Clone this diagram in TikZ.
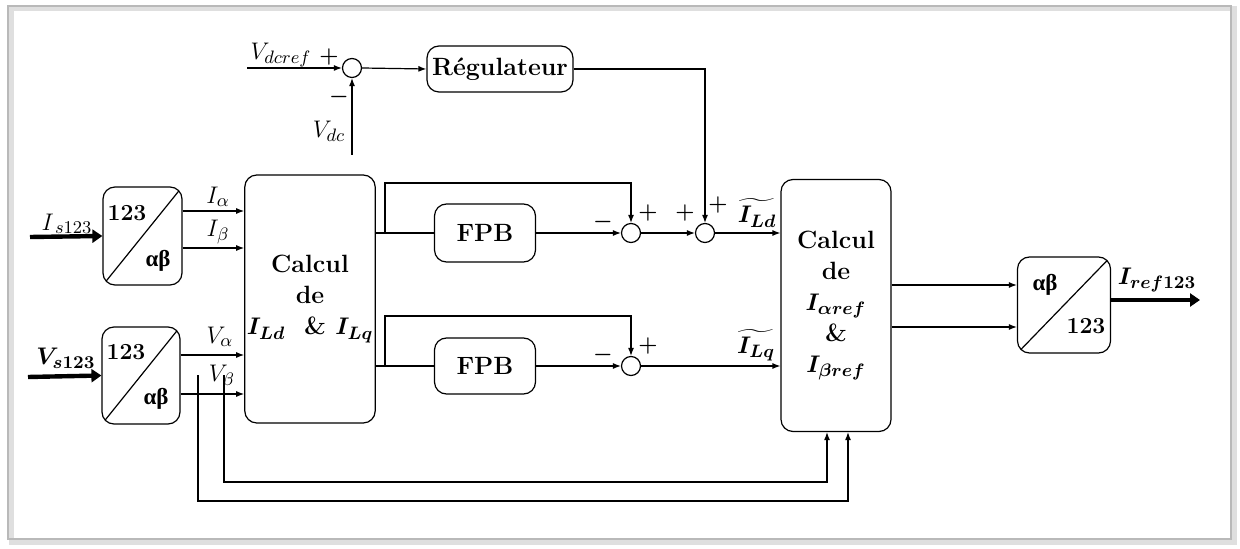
\documentclass[tikz,border=0pt]{standalone}
\usepackage{amsmath}
\usepackage{bm}
\usepackage{fontspec}
\newfontfamily\grkfont{Liberation Serif}
\usetikzlibrary{arrows.meta}
\begin{document}
\begin{tikzpicture}[x=0.5pt,y=-0.5pt,
    blk/.style={draw, rounded corners=6pt, line width=0.6pt, align=center, inner sep=1pt,
                font=\bfseries\fontsize{12.5}{15.5}\selectfont},
    sumnode/.style={draw, circle, minimum size=9.5pt, inner sep=0pt, line width=0.6pt},
    conv/.style={draw, rounded corners=6pt, line width=0.6pt, inner sep=0pt,
                 path picture={\draw (path picture bounding box.south west) -- (path picture bounding box.north east);}},
    convtxt/.style={font=\bfseries\fontsize{11.5}{13}\selectfont, inner sep=0pt},
    sig/.style={line width=0.6pt, -{Latex[length=4pt,width=3pt]}},
    bus/.style={line width=2.2pt, -{Triangle[length=5pt,width=6.5pt]}},
    lbl/.style={font=\fontsize{13}{15}\selectfont, inner sep=0pt},
    sgn/.style={font=\bfseries\fontsize{11}{13}\selectfont, inner sep=0pt}]
          \useasboundingbox (0,0) rectangle (1240,549);
          \draw [gray!25, line width=2.5pt] (11,9) rectangle (1234,542); % Draws the shadow
          \draw [gray!55, line width=0.8pt] (8,6) rectangle (1231,539); % Draws the frame

          % DC bus regulation
          \node [sumnode] (sum1) at (352,68) {};
          \node [blk, minimum width=73pt, minimum height=23pt] (reg) at (500,69) {Régulateur};
          \coordinate (vdcref-in) at (247,68);
          \coordinate (vdc-in) at (352,155);

          % input transformations
          \node [conv, minimum width=39.5pt, minimum height=49pt] (convI) at (142.5,236) {};
          \node [convtxt] (convI-a) at (127,213) {123};
          \node [convtxt] (convI-b) at (158,261) {\grkfont αβ};
          \node [conv, minimum width=39pt, minimum height=48.5pt] (convV) at (141,375.5) {};
          \node [convtxt] (convV-a) at (126,352) {123};
          \node [convtxt] (convV-b) at (156,399) {\grkfont αβ};
          \coordinate (is-in) at (30,237);
          \coordinate (vs-in) at (28,377);

          % calculation blocks
          \node [blk, minimum width=55pt, minimum height=124pt] (calc1) at (310,299)
                {Calcul\\de\\$\bm{I_{Ld}}$\ \ \& $\bm{I_{Lq}}$};
          \node [blk, minimum width=55pt, minimum height=126pt] (calc2) at (836,305.5)
                {Calcul\\de\\$\bm{I_{\alpha ref}}$\\\&\\$\bm{I_{\beta ref}}$};

          % filters and sums
          \node [blk, minimum width=50.5pt, minimum height=29pt] (fpb1) at (485,233) {FPB};
          \node [blk, minimum width=50.5pt, minimum height=28pt] (fpb2) at (485,366) {FPB};
          \node [sumnode] (sum2) at (631,233) {};
          \node [sumnode] (sum3) at (705,233) {};
          \node [sumnode] (sum4) at (631,366) {};
          \coordinate (d-tap) at (385,233);
          \coordinate (q-tap) at (385,366);

          % output transformation
          \node [conv, minimum width=46.5pt, minimum height=48pt] (convO) at (1064,305) {};
          \node [convtxt] (convO-a) at (1045,285) {\grkfont αβ};
          \node [convtxt] (convO-b) at (1086,326) {123};
          \coordinate (iref-out) at (1200,300);

          % labels
          \node [lbl] (l-vdcref) at (281,55) {$V_{dcref}$};
          \node [sgn] (p-sum1) at (329,57) {+};
          \node [sgn] (m-sum1) at (339,97) {$\bm{-}$};
          \node [lbl] (l-vdc) at (329,131) {$V_{dc}$};
          \node [lbl] (l-is) at (67,224) {$I_{\,s123}$};
          \node [lbl] (l-vs) at (66,358) {$\bm{V_{s123}}$};
          \node [lbl] (l-ia) at (218,197) {$I_{\alpha}$};
          \node [lbl] (l-ib) at (218,232) {$I_{\beta}$};
          \node [lbl] (l-va) at (220,337) {$V_{\alpha}$};
          \node [lbl] (l-vb) at (222,377) {$V_{\beta}$};
          \node [sgn] (m-sum2) at (603,222) {$\bm{-}$};
          \node [sgn] (p-sum2) at (648,213) {+};
          \node [sgn] (p1-sum3) at (685,213) {+};
          \node [sgn] (p2-sum3) at (718,205) {+};
          \node [sgn] (m-sum4) at (603,355) {$\bm{-}$};
          \node [sgn] (p-sum4) at (648,346) {+};
          \node [lbl] (l-ild) at (757,213) {$\bm{\widetilde{I_{Ld}}}$};
          \node [lbl] (l-ilq) at (756,345) {$\bm{\widetilde{I_{Lq}}}$};
          \node [lbl] (l-iref) at (1157,280) {$\bm{I_{ref123}}$};

          % connectors
          \draw [sig] (vdcref-in) -- (sum1.west);
          \draw [sig] (vdc-in) -- (sum1.south);
          \draw [sig] (sum1.east) -- (reg.west);
          \draw [sig] (reg.east) -| (sum3.north);

          \draw [bus] (is-in) -- (convI.west);
          \draw [bus] (vs-in) -- (convV.west);
          \draw [sig] (convI.east |- 0,211) -- (calc1.west |- 0,211);
          \draw [sig] (convI.east |- 0,248) -- (calc1.west |- 0,248);
          \draw [sig] (convV.east |- 0,355) -- (calc1.west |- 0,355);
          \draw [sig] (convV.east |- 0,394) -- (calc1.west |- 0,394);
          \draw [sig] (convV.east -| 198,0 |- 0,355) |- (848,501) -- (calc2.south -| 848,0);
          \draw [sig] (convV.east -| 224,0 |- 0,394) |- (827,482) -- (calc2.south -| 827,0);

          \draw [line width=0.6pt] (calc1.east |- fpb1) -- (fpb1.west);
          \draw [sig] (d-tap) |- (sum2.north |- 0,183) -- (sum2.north);
          \draw [sig] (fpb1.east) -- (sum2.west);
          \draw [sig] (sum2.east) -- (sum3.west);
          \draw [sig] (sum3.east) -- (calc2.west |- sum3);

          \draw [line width=0.6pt] (calc1.east |- fpb2) -- (fpb2.west);
          \draw [sig] (q-tap) |- (sum4.north |- 0,316) -- (sum4.north);
          \draw [sig] (fpb2.east) -- (sum4.west);
          \draw [sig] (sum4.east) -- (calc2.west |- sum4);

          \draw [sig] (calc2.east |- 0,285) -- (convO.west |- 0,285);
          \draw [sig] (calc2.east |- 0,327) -- (convO.west |- 0,327);
          \draw [bus] (convO.east |- iref-out) -- (iref-out);
\end{tikzpicture}
\end{document}
